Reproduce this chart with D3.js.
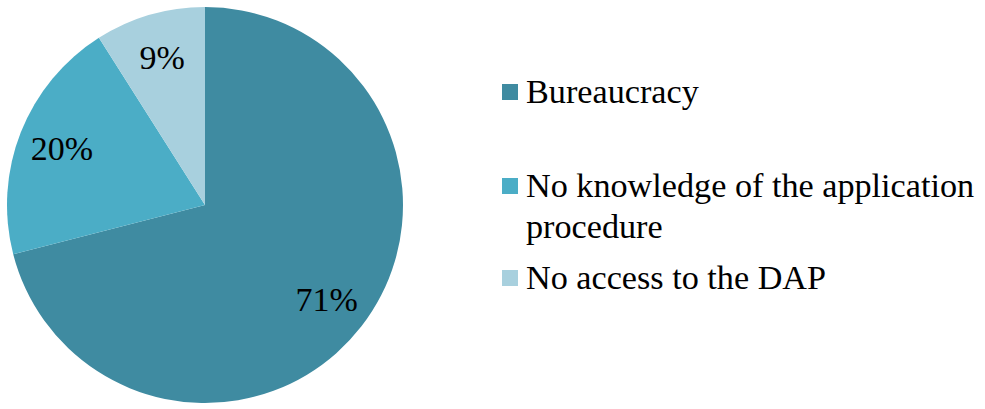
<!DOCTYPE html>
<html><head><meta charset="utf-8">
<script src="https://cdn.jsdelivr.net/npm/d3@7"></script>
<style>body{margin:0;background:#fff}svg{display:block}text{font-family:"Liberation Serif","Times New Roman",Tinos,serif}</style>
</head><body>
<svg id="c" width="985" height="409"></svg>
<script>
const categories = ["Bureaucracy", "No knowledge of the application procedure", "No access to the DAP"];
const legendLines = [["Bureaucracy"], ["No knowledge of the application", "procedure"], ["No access to the DAP"]];
const values = [71, 20, 9];
const labels = ["71%", "20%", "9%"];
const colors = ["#3f8ba1", "#4badc6", "#a8d0de"];

const svg = d3.select("#c");
const cx = 205, cy = 205, r = 198;

const pie = d3.pie().sort(null).value(d => d)(values);
const arc = d3.arc().innerRadius(0).outerRadius(r);
const g = svg.append("g").attr("transform", `translate(${cx},${cy})`);
g.selectAll("path").data(pie).join("path")
  .attr("d", arc).attr("fill", (d, i) => colors[i]);

const lr = 154;
const labelArc = d3.arc().innerRadius(lr).outerRadius(lr);
g.selectAll("text").data(pie).join("text")
  .attr("transform", d => `translate(${labelArc.centroid(d)})`)
  .attr("dy", "0.34em")
  .attr("text-anchor", "middle")
  .style("font-size", "34px").attr("fill", "#000")
  .text((d, i) => labels[i]);

const legendY = [103, 197, 289];
const lg = svg.append("g");
legendLines.forEach((lines, i) => {
  lg.append("rect").attr("x", 502).attr("y", legendY[i] - 19).attr("width", 16).attr("height", 16)
    .attr("fill", colors[i]);
  const t = lg.append("text").attr("x", 526).attr("y", legendY[i])
    .style("font-size", "34.2px").attr("fill", "#000");
  lines.forEach((ln, j) => {
    t.append("tspan").attr("x", 526).attr("dy", j === 0 ? 0 : 41).text(ln);
  });
});
</script>
</body></html>
